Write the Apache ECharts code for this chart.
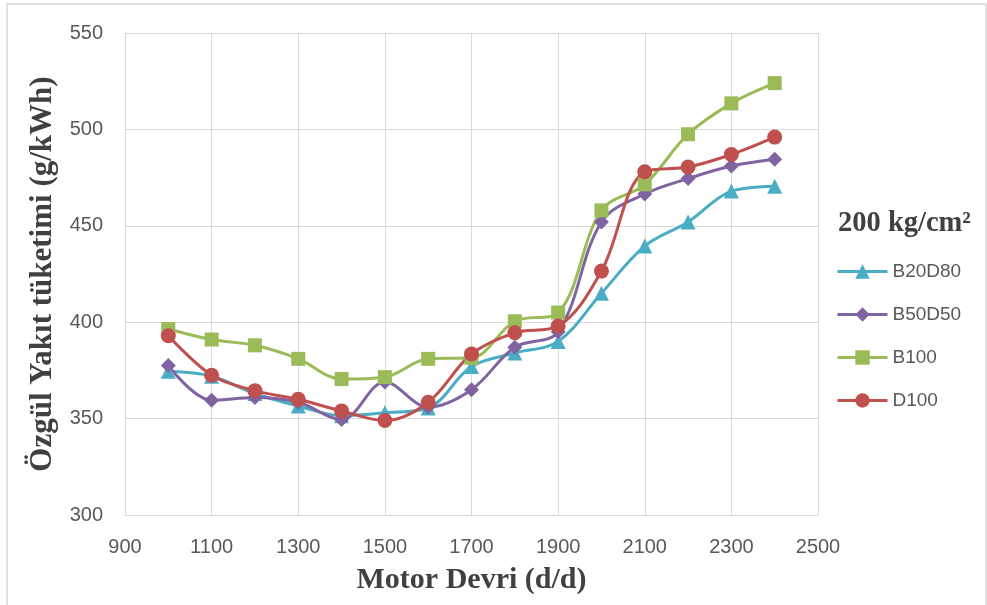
<!DOCTYPE html>
<html>
<head>
<meta charset="utf-8">
<script src="https://cdn.jsdelivr.net/npm/echarts@6/dist/echarts.min.js"></script>
<style>html,body{margin:0;padding:0;background:#fff}#c{width:987px;height:605px}</style>
</head>
<body>
<div id="c"></div>
<script>
const axisCategories = ['900','1000','1100','1200','1300','1400','1500','1600','1700','1800','1900','2000','2100','2200','2300','2400','2500'];
const rpm = ['1000','1100','1200','1300','1400','1500','1600','1700','1800','1900','2000','2100','2200','2300','2400'];
const B20D80 = [374.5, 372, 363, 356.5, 351.5, 353, 355.5, 377, 384, 390, 415, 439.5, 452, 468, 470.5];
const B50D50 = [377.5, 359.5, 361, 358.5, 349.5, 369, 356, 365, 387, 395, 452, 466.5, 474.5, 481, 484.5];
const B100 = [396.5, 391, 388, 381, 370.5, 371.5, 381, 381.5, 400.5, 405, 458, 471.5, 497.5, 513.5, 524];
const D100 = [393, 372.5, 364.5, 360, 354, 349, 358.5, 383.5, 394.5, 398, 426.5, 478, 480.5, 487, 496];
const yTicks = {min: 300, max: 550, interval: 50};

const sans = 'Liberation Sans';
const serif = 'Liberation Serif';
function mk(name, vals, color, symbol, size) {
  return {
    name, type: 'line', smooth: 0.35, data: rpm.map((r, i) => [r, vals[i]]),
    symbol, symbolSize: size,
    lineStyle: {color, width: 3},
    itemStyle: {color},
    emphasis: {disabled: true}
  };
}
const chart = echarts.init(document.getElementById('c'));
chart.setOption({
  animation: false,
  grid: {left: 125, right: 169, top: 33, bottom: 90},
  graphic: [{
    type: 'rect', silent: true,
    shape: {x: 7, y: 4, width: 979, height: 610},
    style: {fill: 'none', stroke: '#d9d9d9', lineWidth: 1.5}
  }],
  title: {
    text: '200 kg/cm²', left: 833, top: 204,
    textStyle: {fontFamily: serif, fontWeight: 'bold', fontSize: 28.5, color: '#404040'}
  },
  legend: {
    orient: 'vertical', left: 831, top: 257, itemWidth: 50, itemHeight: 18, itemGap: 24,
    lineStyle: {width: 3},
    textStyle: {fontFamily: sans, fontSize: 19, color: '#595959'},
    data: ['B20D80', 'B50D50', 'B100', 'D100']
  },
  xAxis: {
    type: 'category', data: axisCategories, boundaryGap: false,
    name: 'Motor Devri (d/d)', nameLocation: 'middle', nameGap: 50,
    nameTextStyle: {fontFamily: serif, fontWeight: 'bold', fontSize: 30, color: '#404040'},
    axisLine: {lineStyle: {color: '#d9d9d9', width: 1}},
    axisTick: {show: false},
    axisLabel: {interval: 1, fontFamily: sans, fontSize: 20, color: '#595959', margin: 22},
    splitLine: {show: true, interval: 1, lineStyle: {color: '#d9d9d9', width: 1}}
  },
  yAxis: {
    type: 'value', min: yTicks.min, max: yTicks.max, interval: yTicks.interval,
    name: 'Özgül Yakıt tüketimi (g/kWh)', nameLocation: 'middle', nameGap: 64,
    nameTextStyle: {fontFamily: serif, fontWeight: 'bold', fontSize: 31, color: '#404040'},
    axisLine: {show: true, lineStyle: {color: '#d9d9d9', width: 1}},
    axisTick: {show: false},
    axisLabel: {fontFamily: sans, fontSize: 20, color: '#595959', margin: 22},
    splitLine: {show: true, lineStyle: {color: '#d9d9d9', width: 1}}
  },
  series: [
    mk('B20D80', B20D80, '#4BACC6', 'triangle', 15),
    mk('B50D50', B50D50, '#8064A2', 'diamond', 15),
    mk('B100', B100, '#9BBB59', 'rect', 14),
    mk('D100', D100, '#C0504D', 'circle', 15)
  ]
});
</script>
</body>
</html>
